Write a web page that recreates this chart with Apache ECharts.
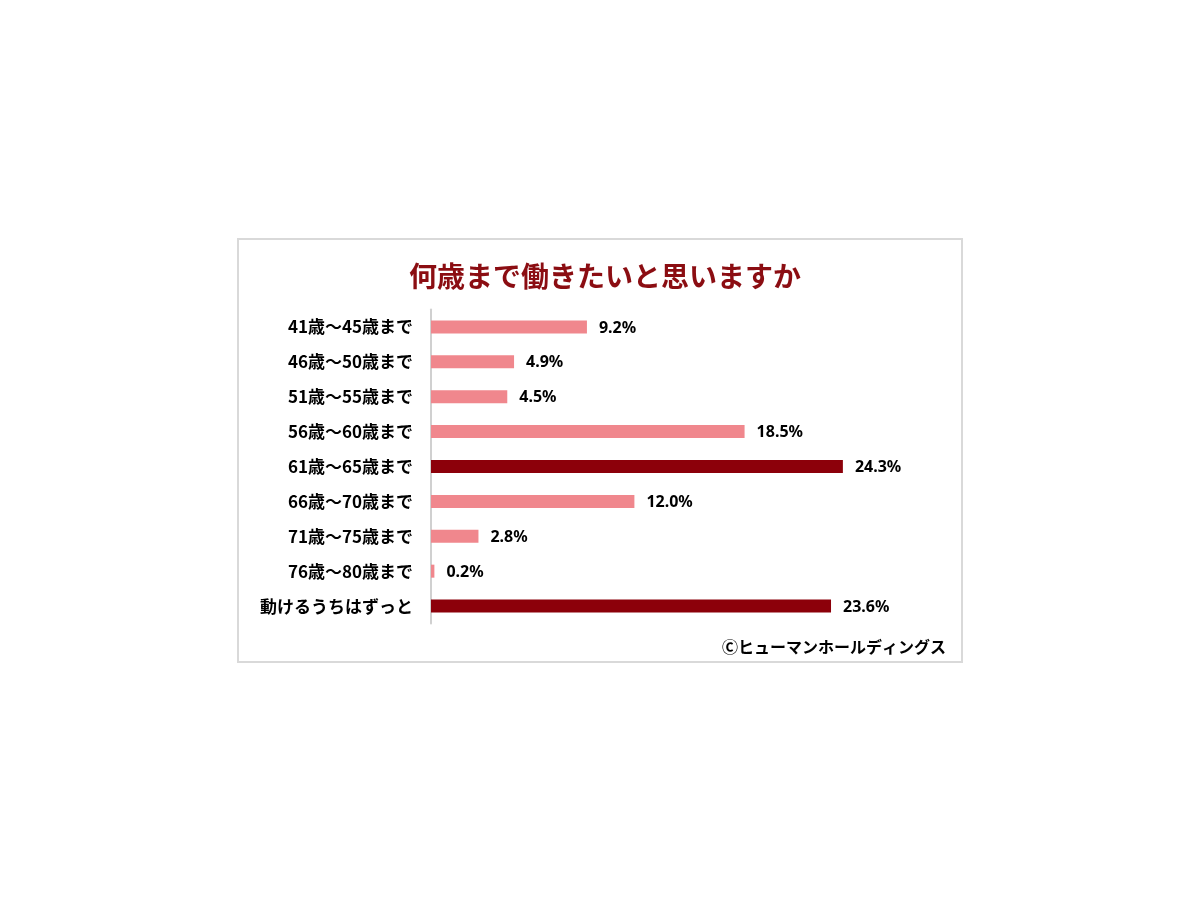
<!DOCTYPE html>
<html><head><meta charset="utf-8">
<script src="https://cdn.jsdelivr.net/npm/echarts@6/dist/echarts.min.js"></script>
<style>html,body{margin:0;padding:0;background:#fff}#c{width:1200px;height:900px}</style>
</head><body><div id="c"></div>
<script>
const titleText = '何歳まで働きたいと思いますか';
const creditText = 'Ⓒヒューマンホールディングス';
const categories = ['41歳〜45歳まで','46歳〜50歳まで','51歳〜55歳まで','56歳〜60歳まで','61歳〜65歳まで','66歳〜70歳まで','71歳〜75歳まで','76歳〜80歳まで','動けるうちはずっと'];
const values = [9.2, 4.9, 4.5, 18.5, 24.3, 12.0, 2.8, 0.2, 23.6];
const highlighted = ['61歳〜65歳まで', '動けるうちはずっと'];

const chart = echarts.init(document.getElementById('c'), null, {renderer: 'canvas'});
const JP = '"Noto Sans CJK JP", "Noto Sans", sans-serif';
chart.setOption({
  animation: false,
  backgroundColor: '#ffffff',
  title: {
    text: titleText, left: 600, top: 257, textAlign: 'center',
    textStyle: {color: '#8B0D12', fontSize: 28, fontWeight: 'bold', fontFamily: JP}
  },
  graphic: [
    {type: 'rect', shape: {x: 238, y: 239, width: 724, height: 423}, style: {fill: 'none', stroke: '#d9d9d9', lineWidth: 2}, silent: true, z: -1},
    {type: 'text', right: 254, top: 639, style: {text: creditText, fill: '#000', font: 'bold 16px ' + JP}}
  ],
  grid: {left: 431, top: 309.5, height: 314, width: 30 * 16.95},
  xAxis: {type: 'value', min: 0, max: 30, show: false},
  yAxis: {
    type: 'category', data: categories, inverse: true,
    axisLine: {show: true, lineStyle: {color: '#d0d0d0', width: 2}},
    axisTick: {show: false},
    axisLabel: {color: '#000', fontSize: 17, fontWeight: 'bold', fontFamily: JP, margin: 18}
  },
  series: [{
    type: 'bar', barWidth: 13,
    data: values.map((v, i) => ({
      value: v,
      itemStyle: {color: highlighted.includes(categories[i]) ? '#8C000A' : '#F0878D'}
    })),
    label: {
      show: true, position: 'right', distance: 12, offset: [0, 1],
      formatter: p => p.value.toFixed(1) + '%',
      color: '#000', fontSize: 16, fontWeight: 'bold', fontFamily: '"Noto Sans", sans-serif'
    }
  }]
});
</script></body></html>
